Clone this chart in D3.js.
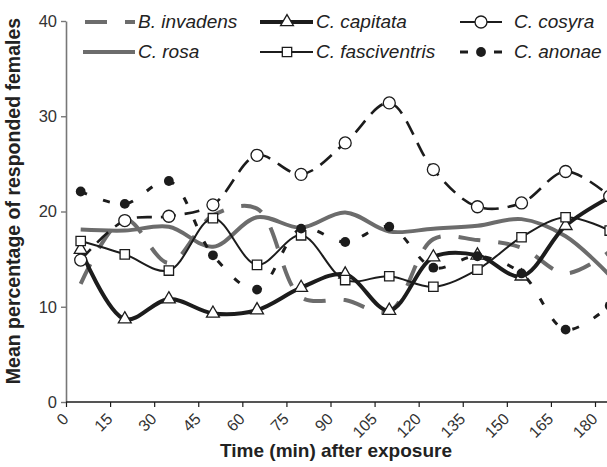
<!DOCTYPE html>
<html><head><meta charset="utf-8">
<script src="https://cdn.jsdelivr.net/npm/d3@7"></script>
<style>body{margin:0;background:#fff}svg{display:block}</style>
</head><body>
<svg id="chart" width="607" height="467"></svg>
<script>
// ---- data ----
const times = [5, 20, 35, 50, 65, 80, 95, 110, 125, 140, 155, 170, 185];
const xTickValues = [0, 15, 30, 45, 60, 75, 90, 105, 120, 135, 150, 165, 180];
const yTickValues = [0, 10, 20, 30, 40];
const bInvadens     = [12.4, 19.2, 14.6, 19.6, 20.3, 11.0, 10.7, 9.5, 17.1, 17.0, 16.2, 13.5, 15.8];
const cRosa         = [18.1, 18.0, 18.4, 16.3, 19.4, 18.3, 19.9, 17.9, 18.2, 18.5, 19.2, 17.4, 13.3];
const cCapitata     = [16.0, 8.7, 10.8, 9.3, 9.65, 12.0, 13.4, 9.6, 15.2, 15.4, 13.2, 18.5, 21.5];
const cCosyra       = [14.9, 19.05, 19.5, 20.7, 25.9, 23.9, 27.2, 31.4, 24.4, 20.5, 20.9, 24.2, 21.6];
const cFasciventris = [16.9, 15.5, 13.8, 19.3, 14.4, 17.5, 12.8, 13.2, 12.1, 13.9, 17.3, 19.4, 18.0];
const cAnonae       = [22.1, 20.8, 23.2, 15.4, 11.8, 18.2, 16.8, 18.4, 14.1, 15.3, 13.5, 7.6, 10.1];
const legendLabels = ["B. invadens", "C. capitata", "C. cosyra", "C. rosa", "C. fasciventris", "C. anonae"];
const xTitle = "Time (min) after exposure";
const yTitle = "Mean percentage of responded females";

// ---- setup ----
const svg = d3.select("#chart");
const W = 607, H = 467;
svg.append("rect").attr("width", W).attr("height", H).attr("fill", "#fff");
const x = d3.scaleLinear().domain([0, 180]).range([66, 595]);
const y = d3.scaleLinear().domain([0, 40]).range([402, 21]);
const GRAY = "#6c6c6c", BLACK = "#1c1c1c";
const FONT = "'Liberation Sans', Arial, Helvetica, sans-serif";

const styles = {
  invadens:     {data: bInvadens,     color: GRAY,  width: 4,   dash: "22,18", marker: null},
  rosa:         {data: cRosa,         color: GRAY,  width: 4,   dash: null,    marker: null},
  capitata:     {data: cCapitata,     color: BLACK, width: 4,   dash: null,    marker: "tri"},
  cosyra:       {data: cCosyra,       color: BLACK, width: 2.6, dash: "15,9",  marker: "ocircle"},
  fasciventris: {data: cFasciventris, color: BLACK, width: 2,   dash: null,    marker: "square"},
  anonae:       {data: cAnonae,       color: BLACK, width: 3,   dash: "7,17",  marker: "fcircle"}
};

// ---- axes ----
const yAxis = d3.axisLeft(y).tickValues(yTickValues).tickSize(5).tickSizeOuter(0).tickPadding(4);
const gy = svg.append("g").attr("transform", `translate(${x(0)},0)`).call(yAxis);
gy.select(".domain").attr("stroke", "#777").attr("stroke-width", 1.6);
gy.selectAll(".tick line").attr("stroke", "#777").attr("stroke-width", 1.4);
gy.selectAll(".tick text").attr("font-family", FONT).attr("font-size", 16.5).attr("fill", "#333");

const xAxis = d3.axisBottom(x).tickValues(xTickValues).tickSize(5).tickSizeOuter(0);
const gx = svg.append("g").attr("transform", `translate(0,${y(0)})`).call(xAxis);
gx.select(".domain").remove();
gx.append("line").attr("x1", x(0)).attr("x2", W).attr("y1", 0).attr("y2", 0)
  .attr("stroke", BLACK).attr("stroke-width", 1.4);
gx.selectAll(".tick line").attr("stroke", BLACK).attr("stroke-width", 1.2);
gx.selectAll(".tick text")
  .attr("font-family", FONT).attr("font-size", 16).attr("fill", "#333")
  .attr("text-anchor", "end").attr("dy", "0.35em").attr("y", 0)
  .attr("transform", "translate(-1,14) rotate(-45)");

// ---- lines ----
const line = d3.line().x((d, i) => x(times[i])).y(d => y(d)).curve(d3.curveCatmullRom.alpha(0.5));
const order = ["invadens", "rosa", "capitata", "cosyra", "fasciventris", "anonae"];
order.forEach(k => {
  const s = styles[k];
  svg.append("path").datum(s.data).attr("d", line)
    .attr("fill", "none").attr("stroke", s.color).attr("stroke-width", s.width)
    .attr("stroke-dasharray", s.dash).attr("stroke-linejoin", "round");
});

function drawMarker(g, type, cx, cy) {
  if (type === "tri") {
    g.append("path").attr("d", d3.symbol(d3.symbolTriangle, 72)())
      .attr("transform", `translate(${cx},${cy})`)
      .attr("fill", "#fff").attr("stroke", BLACK).attr("stroke-width", 1.3);
  } else if (type === "square") {
    g.append("path").attr("d", d3.symbol(d3.symbolSquare, 88)())
      .attr("transform", `translate(${cx},${cy})`)
      .attr("fill", "#fff").attr("stroke", BLACK).attr("stroke-width", 1.3);
  } else if (type === "ocircle") {
    g.append("circle").attr("cx", cx).attr("cy", cy).attr("r", 6)
      .attr("fill", "#fff").attr("stroke", BLACK).attr("stroke-width", 1.3);
  } else if (type === "fcircle") {
    g.append("circle").attr("cx", cx).attr("cy", cy).attr("r", 4.9).attr("fill", BLACK);
  }
}
const mk = svg.append("g");
["capitata", "cosyra", "fasciventris", "anonae"].forEach(k => {
  const s = styles[k];
  s.data.forEach((v, i) => drawMarker(mk, s.marker, x(times[i]), y(v)));
});

// ---- legend ----
const leg = svg.append("g");
const legendItems = [
  {key: "invadens",     label: legendLabels[0], x1: 85,  x2: 135, mx: null, tx: 138, row: 0},
  {key: "capitata",     label: legendLabels[1], x1: 260, x2: 313, mx: 287, tx: 316, row: 0},
  {key: "cosyra",       label: legendLabels[2], x1: 460, x2: 502, mx: 481, tx: 514, row: 0},
  {key: "rosa",         label: legendLabels[3], x1: 83,  x2: 135, mx: null, tx: 138, row: 1},
  {key: "fasciventris", label: legendLabels[4], x1: 260, x2: 313, mx: 287, tx: 316, row: 1},
  {key: "anonae",       label: legendLabels[5], x1: 460, x2: 502, mx: 481, tx: 514, row: 1}
];
const rowY = [22, 52], rowBase = [28, 58];
legendItems.forEach(it => {
  const s = styles[it.key];
  let dash = s.dash;
  let w = s.width;
  if (it.key === "cosyra") { dash = null; w = 2; }
  if (it.key === "anonae") { dash = "8,26"; }
  leg.append("line").attr("x1", it.x1).attr("x2", it.x2).attr("y1", rowY[it.row]).attr("y2", rowY[it.row])
    .attr("stroke", s.color).attr("stroke-width", w).attr("stroke-dasharray", dash);
  if (it.mx !== null) drawMarker(leg, s.marker, it.mx, rowY[it.row]);
  leg.append("text").attr("x", it.tx).attr("y", rowBase[it.row]).text(it.label)
    .attr("font-family", FONT).attr("font-size", 19).attr("font-style", "italic").attr("fill", "#222");
});

// ---- titles ----
svg.append("text").attr("x", 336).attr("y", 457).attr("text-anchor", "middle")
  .attr("font-family", FONT).attr("font-weight", "bold").attr("font-size", 19).attr("fill", "#222")
  .text(xTitle);
svg.append("text").attr("transform", "translate(20,201) rotate(-90)").attr("text-anchor", "middle")
  .attr("font-family", FONT).attr("font-weight", "bold").attr("font-size", 19.5).attr("fill", "#222")
  .text(yTitle);
</script>
</body></html>
